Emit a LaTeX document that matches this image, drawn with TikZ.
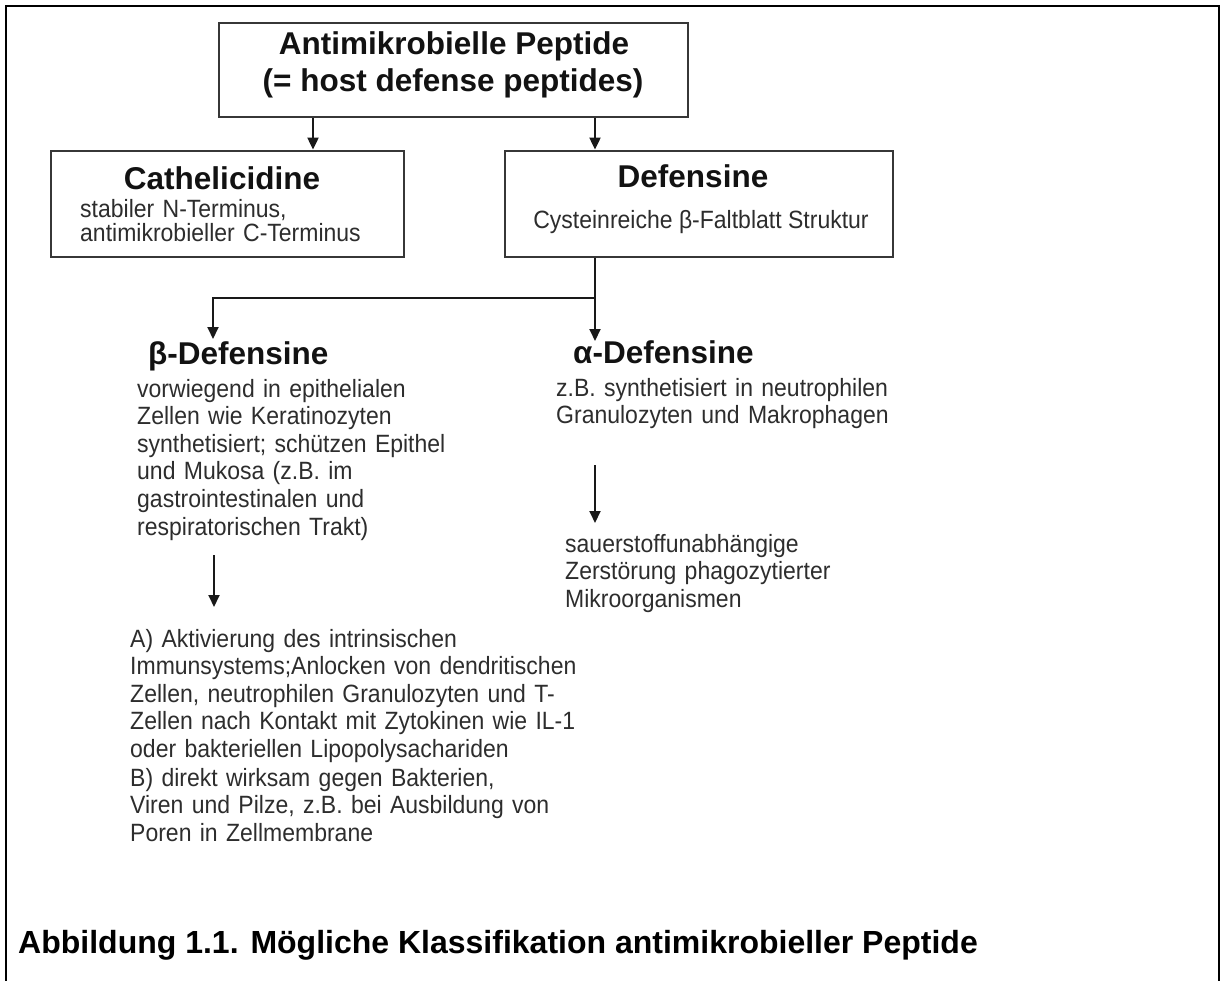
\documentclass[tikz,border=0pt]{standalone}
\usepackage{fontspec}
\setmainfont{Liberation Sans}
\newfontfamily\bodyfont{Liberation Sans}[FakeStretch=0.92]
\usetikzlibrary{arrows.meta}
\definecolor{boxline}{RGB}{55,55,55}
\definecolor{bodytext}{RGB}{45,45,45}
\definecolor{headtext}{RGB}{18,18,18}
\tikzset{
  box/.style={draw=boxline, line width=2.8pt, inner sep=0pt, fill=white},
  arr/.style={draw=black!90, line width=2pt, -{Triangle[width=11pt,length=12pt]}},
  frameline/.style={draw=black, line width=2pt},
  head/.style={inner sep=0pt, font=\fontsize{31.5}{36}\selectfont\bfseries, text=headtext},
  body/.style={inner sep=0pt, font=\bodyfont\fontsize{25}{27.6}\selectfont, text=bodytext, align=left, text width=#1},
  catbody/.style={inner sep=0pt, font=\bodyfont\fontsize{25}{24}\selectfont, text=bodytext, align=left, text width=#1},
}
\begin{document}
\begin{tikzpicture}[x=1pt,y=-1pt]
\useasboundingbox (0,0) rectangle (1222,981);
% outer frame (open at the bottom)
\draw[frameline] (6,981) -- (6,6) -- (1219,6) -- (1219,981);

% boxes
\node[box, minimum width=469pt, minimum height=94pt] (top) at (453.5,70) {};
\node[box, minimum width=353pt, minimum height=106pt] (cath) at (227.5,204) {};
\node[box, minimum width=388pt, minimum height=106pt] (def) at (699,204) {};

% texts in boxes
\node[head, anchor=base] (t1) at (454,55) {Antimikrobielle Peptide};
\node[head, anchor=base] (t2) at (453,92) {(= host defense peptides)};
\node[head, anchor=base] (cathT) at (222,190) {Cathelicidine};
\node[catbody=320pt, anchor=base west] (cathB) at (80,218) {stabiler N-Terminus,\\antimikrobieller C-Terminus};
\node[head, anchor=base] (defT) at (693,188) {Defensine};
\node[inner sep=0pt, font=\bodyfont\fontsize{25}{27}\selectfont, text=bodytext, anchor=base] (defB) at (701,229) {Cysteinreiche β-Faltblatt Struktur};

% second level
\node[head, anchor=base west] (betaT) at (148,364) {β-Defensine};
\node[body=420pt, anchor=base west] (betaB) at (137,397) {vorwiegend in epithelialen\\Zellen wie Keratinozyten\\synthetisiert; schützen Epithel\\und Mukosa (z.B. im\\gastrointestinalen und\\respiratorischen Trakt)};
\node[head, anchor=base west] (alphaT) at (573,363) {α-Defensine};
\node[body=420pt, anchor=base west] (alphaB) at (556,396) {z.B. synthetisiert in neutrophilen\\Granulozyten und Makrophagen};

% third level
\node[body=320pt, anchor=base west] (alphaC) at (565,552) {sauerstoffunabhängige\\Zerstörung phagozytierter\\Mikroorganismen};
\node[body=480pt, anchor=base west] (betaA) at (130,647) {A) Aktivierung des intrinsischen\\Immunsystems;Anlocken von dendritischen\\Zellen, neutrophilen Granulozyten und T-\\Zellen nach Kontakt mit Zytokinen wie IL-1\\oder bakteriellen Lipopolysachariden};
\node[body=480pt, anchor=base west] (betaBB) at (130,786) {B) direkt wirksam gegen Bakterien,\\Viren und Pilze, z.B. bei Ausbildung von\\Poren in Zellmembrane};

% caption
\node[inner sep=0pt, font=\fontsize{32}{36}\selectfont\bfseries, text=black, anchor=base west] (cap) at (18,953) {Abbildung 1.1. Mögliche Klassifikation antimikrobieller Peptide};

% connectors
\coordinate (branch) at (595,298);
\coordinate (betaTip) at (213,339);
\coordinate (alphaTip) at (595,341);
\coordinate (betaArrStart) at (214,555);
\coordinate (betaArrEnd) at (214,607);
\coordinate (alphaArrStart) at (595,465);
\coordinate (alphaArrEnd) at (595,523);
\draw[arr] (313,0 |- top.south) -- (313,0 |- cath.north);
\draw[arr] (595,0 |- top.south) -- (595,0 |- def.north);
\draw[arr] (595,0 |- def.south) -- (alphaTip);
\draw[arr] (branch) -- (betaTip |- branch) -- (betaTip);
\draw[arr] (betaArrStart) -- (betaArrEnd);
\draw[arr] (alphaArrStart) -- (alphaArrEnd);
\end{tikzpicture}
\end{document}
